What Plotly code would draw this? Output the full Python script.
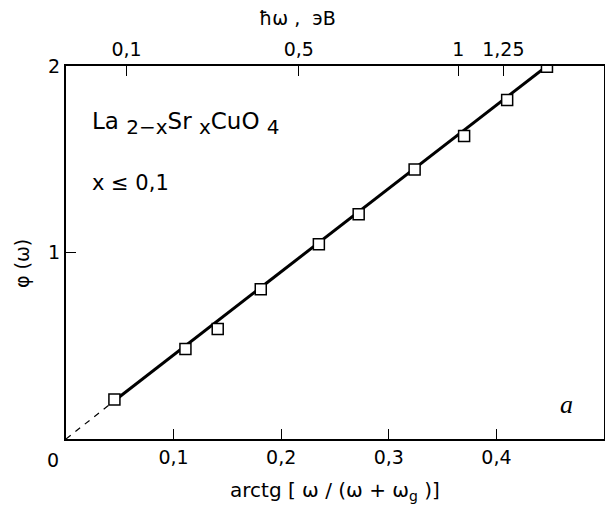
import plotly.graph_objects as go

# Data
x_pts = [0.045, 0.111, 0.141, 0.181, 0.235, 0.272, 0.324, 0.370, 0.410, 0.447]
y_pts = [0.212, 0.482, 0.590, 0.803, 1.044, 1.205, 1.445, 1.624, 1.818, 1.996]

fit_solid_x = [0.045, 0.447]
fit_solid_y = [0.205, 2.0]
fit_dash_x = [0.0, 0.045]
fit_dash_y = [0.0, 0.205]

bottom_tickvals = [0.1, 0.2, 0.3, 0.4]
bottom_ticktext = ["0,1", "0,2", "0,3", "0,4"]
left_tickvals = [1, 2]
left_ticktext = ["1", "2"]
top_tickvals = [0.0563, 0.2163, 0.3647, 0.4065]
top_ticktext = ["0,1", "0,5", "1", "1,25"]

FONT = "DejaVu Sans, Liberation Sans, Arial, sans-serif"
TS = 19

fig = go.Figure()
fig.add_trace(go.Scatter(x=fit_dash_x, y=fit_dash_y, mode="lines",
                         line=dict(color="black", width=1.2, dash="6px,6px"),
                         showlegend=False, hoverinfo="skip"))
fig.add_trace(go.Scatter(x=fit_solid_x, y=fit_solid_y, mode="lines",
                         line=dict(color="black", width=3),
                         showlegend=False, hoverinfo="skip"))
fig.add_trace(go.Scatter(x=x_pts, y=y_pts, mode="markers",
                         marker=dict(symbol="square", size=11, color="white",
                                     line=dict(color="black", width=1.5)),
                         showlegend=False))
# invisible trace to activate top axis
fig.add_trace(go.Scatter(x=[0, 0.5], y=[0, 0], xaxis="x2", mode="markers",
                         marker=dict(opacity=0), showlegend=False, hoverinfo="skip"))

fig.update_layout(
    width=605, height=510,
    margin=dict(l=66, r=1, t=66, b=71, autoexpand=False),
    paper_bgcolor="white", plot_bgcolor="white",
    font=dict(family=FONT, size=TS, color="black"),
    xaxis=dict(range=[0, 0.5], showgrid=False, zeroline=False, automargin=False,
               showline=True, linecolor="black", linewidth=2,
               ticks="inside", ticklen=10, tickwidth=1.2, tickcolor="black",
               tickvals=bottom_tickvals, ticktext=bottom_ticktext,
               tickfont=dict(size=TS), mirror=False),
    xaxis2=dict(range=[0, 0.5], overlaying="x", side="top", anchor="y", automargin=False,
                showgrid=False, zeroline=False,
                showline=True, linecolor="black", linewidth=2,
                ticks="inside", ticklen=10, tickwidth=1.2, tickcolor="black",
                tickvals=top_tickvals, ticktext=top_ticktext,
                tickfont=dict(size=TS)),
    yaxis=dict(range=[0, 2], showgrid=False, zeroline=False, automargin=False,
               showline=True, linecolor="black", linewidth=2, mirror=True,
               ticks="inside", ticklen=10, tickwidth=1.2, tickcolor="black",
               tickvals=left_tickvals, ticktext=left_ticktext,
               tickfont=dict(size=TS)),
)

SUB = "<sub><span style='font-size:20px'>{}</span></sub>"
formula = "La " + SUB.format("2−x") + "Sr " + SUB.format("x") + "CuO " + SUB.format("4")

ann = []
ann.append(dict(text="0", xref="paper", yref="paper", x=-0.024, y=-0.057,
                xanchor="center", yanchor="middle", showarrow=False,
                font=dict(size=TS)))
ann.append(dict(text="arctg [ ω / (ω + ω<sub>g</sub> )]", xref="paper", yref="paper",
                x=0.5, y=-0.14, xanchor="center", yanchor="middle",
                showarrow=False, font=dict(size=20)))
ann.append(dict(text="φ (ω)", xref="paper", yref="paper", x=-0.083, y=0.47,
                xanchor="center", yanchor="middle", textangle=-90,
                showarrow=False, font=dict(size=TS)))
ann.append(dict(text="ħω ,  эВ", xref="paper", yref="paper", x=0.43, y=1.128,
                xanchor="center", yanchor="middle",
                showarrow=False, font=dict(size=TS)))
ann.append(dict(text=formula, xref="paper", yref="paper",
                x=0.045, y=0.845, xanchor="left", yanchor="middle",
                showarrow=False, font=dict(size=23)))
ann.append(dict(text="x ≤ 0,1", xref="paper", yref="paper",
                x=0.045, y=0.685, xanchor="left", yanchor="middle",
                showarrow=False, font=dict(size=21)))
ann.append(dict(text="<i>a</i>", xref="paper", yref="paper",
                x=0.93, y=0.093, xanchor="center", yanchor="middle",
                showarrow=False, font=dict(size=26, family="Liberation Serif, Times New Roman, serif")))
fig.update_layout(annotations=ann)

fig.write_html("out.html", config={"displayModeBar": False},
               post_script="document.body.style.margin='0';")
